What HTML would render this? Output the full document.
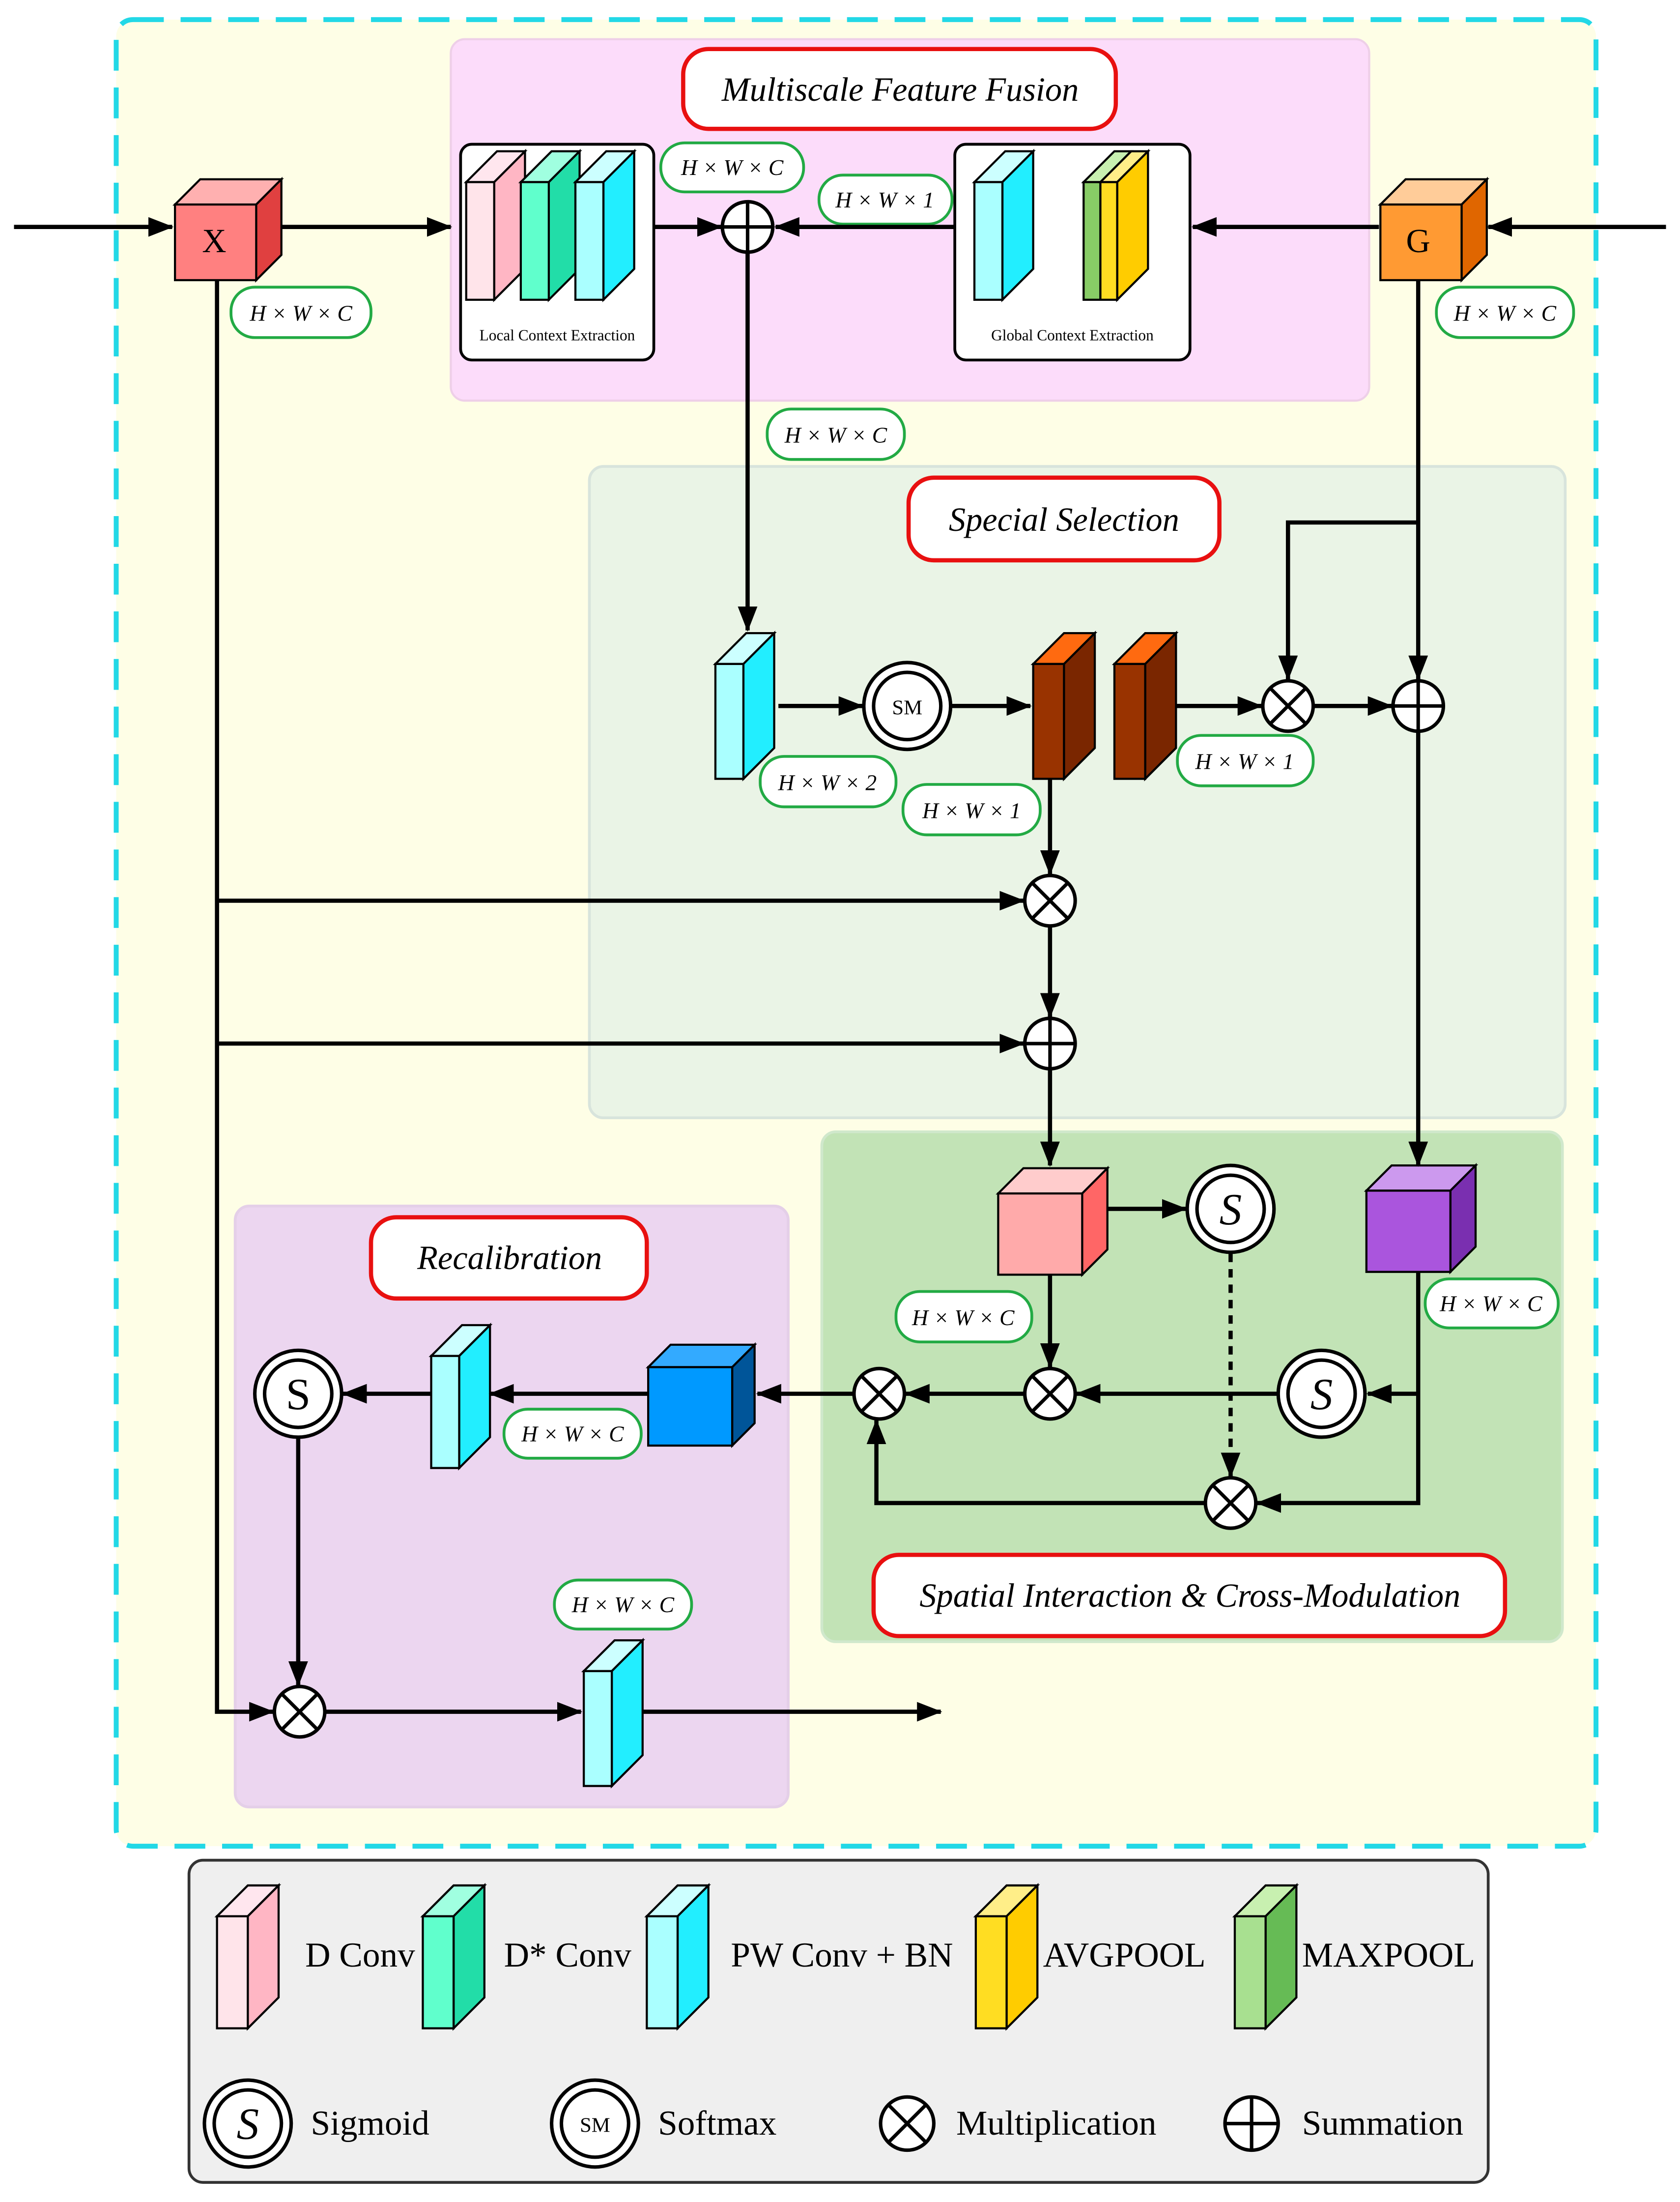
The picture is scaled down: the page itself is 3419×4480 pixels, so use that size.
<!DOCTYPE html>
<html><head><meta charset="utf-8"><style>
html,body{margin:0;padding:0;background:#fff}
svg{display:block}
text{font-family:"Liberation Serif",serif}
.lb{font-style:italic;font-size:16px}
.ttl{font-style:italic;font-size:24px}
.lg{font-size:25px}
</style></head><body>
<svg width="3419" height="4480" viewBox="0 0 1200 1572" preserveAspectRatio="none" xmlns="http://www.w3.org/2000/svg">
<defs>
<marker id="a" markerWidth="10" markerHeight="10" refX="9" refY="5" orient="auto" markerUnits="userSpaceOnUse" viewBox="0 0 10 10"><path d="M0,0 L10,5 L0,10 z" fill="#000"/></marker>
<marker id="b" markerWidth="18" markerHeight="14" refX="17" refY="7" orient="auto" markerUnits="userSpaceOnUse" viewBox="0 0 18 14"><path d="M0,0 L18,7 L0,14 z" fill="#000"/></marker>
</defs>
<rect width="1200" height="1572" fill="#fff"/>
<!-- outer -->
<rect x="83" y="14" width="1057" height="1304" rx="12" fill="#fefee6" stroke="#22d8e6" stroke-width="3.5" stroke-dasharray="22,12"/>
<rect x="322" y="28" width="656" height="258" rx="10" fill="#fcdcfa" stroke="#eecfe8" stroke-width="1.5"/>
<rect x="421" y="333" width="697" height="465" rx="10" fill="#eaf4e6" stroke="#d8e4dc" stroke-width="2"/>
<rect x="587" y="808" width="529" height="364" rx="10" fill="#c2e3b6" stroke="#d0e8cc" stroke-width="2"/>
<rect x="168" y="861" width="395" height="429" rx="10" fill="#ecd6f0" stroke="#e4cfe8" stroke-width="2"/>
<rect x="135" y="1328" width="928" height="230" rx="10" fill="#efefef" stroke="#333" stroke-width="2"/>

<!-- titles -->
<rect x="488" y="35" width="309" height="57" rx="18" fill="#fff" stroke="#e81010" stroke-width="3"/>
<text x="643" y="72" class="ttl" text-anchor="middle">Multiscale Feature Fusion</text>
<rect x="649" y="341" width="222" height="59" rx="18" fill="#fff" stroke="#e81010" stroke-width="3"/>
<text x="760" y="379" class="ttl" text-anchor="middle">Special Selection</text>
<rect x="624" y="1110" width="451" height="58" rx="18" fill="#fff" stroke="#e81010" stroke-width="3"/>
<text x="850" y="1147" class="ttl" text-anchor="middle">Spatial Interaction &amp; Cross-Modulation</text>
<rect x="265" y="869" width="197" height="58" rx="18" fill="#fff" stroke="#e81010" stroke-width="3"/>
<text x="364" y="906" class="ttl" text-anchor="middle">Recalibration</text>

<!-- MFF boxes -->
<rect x="329" y="103" width="138" height="154" rx="8" fill="#fff" stroke="#000" stroke-width="2"/>
<rect x="682" y="103" width="168" height="154" rx="8" fill="#fff" stroke="#000" stroke-width="2"/>
<g stroke="#000" stroke-width="1.5">
<!-- pink slab -->
<polygon points="333,130 355,108 375,108 353,130" fill="#ffe6ee"/><polygon points="353,130 375,108 375,192 353,214" fill="#ffb6c4"/><rect x="333" y="130" width="20" height="84" fill="#ffe4ea"/>
<polygon points="372,130 394,108 414,108 392,130" fill="#a0ffe0"/><polygon points="392,130 414,108 414,192 392,214" fill="#22dda8"/><rect x="372" y="130" width="20" height="84" fill="#60ffcc"/>
<polygon points="411,130 433,108 453,108 431,130" fill="#ccffff"/><polygon points="431,130 453,108 453,192 431,214" fill="#22eeff"/><rect x="411" y="130" width="20" height="84" fill="#aaffff"/>
<polygon points="696,130 718,108 738,108 716,130" fill="#ccffff"/><polygon points="716,130 738,108 738,192 716,214" fill="#22eeff"/><rect x="696" y="130" width="20" height="84" fill="#aaffff"/>
<polygon points="774,130 796,108 808,108 786,130" fill="#c8f0b0"/><rect x="774" y="130" width="12" height="84" fill="#88cc66"/>
<polygon points="786,130 808,108 820,108 798,130" fill="#ffee88"/><polygon points="798,130 820,108 820,192 798,214" fill="#ffcc00"/><rect x="786" y="130" width="12" height="84" fill="#ffdd22"/>
</g>
<text x="398" y="243" font-size="11" text-anchor="middle">Local Context Extraction</text>
<text x="766" y="243" font-size="11" text-anchor="middle">Global Context Extraction</text>

<!-- X and G cubes -->
<g stroke="#000" stroke-width="1.5">
<polygon points="125,146 143,128 201,128 183,146" fill="#ffb0b0"/><polygon points="183,146 201,128 201,182 183,200" fill="#e04040"/><rect x="125" y="146" width="58" height="54" fill="#ff8080"/>
<polygon points="986,146 1004,128 1062,128 1044,146" fill="#ffcc99"/><polygon points="1044,146 1062,128 1062,182 1044,200" fill="#e06600"/><rect x="986" y="146" width="58" height="54" fill="#ff9a33"/>
</g>
<text x="153" y="180" font-size="24" text-anchor="middle">X</text>
<text x="1013" y="180" font-size="24" text-anchor="middle">G</text>

<!-- dimension labels -->
<g fill="#fff" stroke="#22aa44" stroke-width="2">
<rect x="472" y="102" width="102" height="35" rx="17"/>
<rect x="585" y="125" width="95" height="35" rx="17"/>
<rect x="165" y="205" width="100" height="36" rx="17"/>
<rect x="1026" y="205" width="98" height="36" rx="17"/>
<rect x="548" y="292" width="98" height="36" rx="17"/>
<rect x="543" y="540" width="97" height="36" rx="17"/>
<rect x="645" y="560" width="98" height="36" rx="17"/>
<rect x="841" y="525" width="97" height="36" rx="17"/>
<rect x="640" y="922" width="97" height="36" rx="17"/>
<rect x="1018" y="913" width="95" height="35" rx="17"/>
<rect x="360" y="1006" width="98" height="35" rx="17"/>
<rect x="396" y="1128" width="98" height="35" rx="17"/>
</g>
<g class="lb" text-anchor="middle">
<text x="523" y="125">H × W × C</text>
<text x="632" y="148">H × W × 1</text>
<text x="215" y="229">H × W × C</text>
<text x="1075" y="229">H × W × C</text>
<text x="597" y="316">H × W × C</text>
<text x="591" y="564">H × W × 2</text>
<text x="694" y="584">H × W × 1</text>
<text x="889" y="549">H × W × 1</text>
<text x="688" y="946">H × W × C</text>
<text x="1065" y="936">H × W × C</text>
<text x="409" y="1029">H × W × C</text>
<text x="445" y="1151">H × W × C</text>
</g>

<!-- SS slabs -->
<g stroke="#000" stroke-width="1.5">
<polygon points="511,474 533,452 553,452 531,474" fill="#ccffff"/><polygon points="531,474 553,452 553,534 531,556" fill="#22eeff"/><rect x="511" y="474" width="20" height="82" fill="#aaffff"/>
<polygon points="738,474 760,452 782,452 760,474" fill="#ff6a10"/><polygon points="760,474 782,452 782,534 760,556" fill="#7a2600"/><rect x="738" y="474" width="22" height="82" fill="#993300"/>
<polygon points="796,474 818,452 840,452 818,474" fill="#ff6a10"/><polygon points="818,474 840,452 840,534 818,556" fill="#7a2600"/><rect x="796" y="474" width="22" height="82" fill="#993300"/>
<!-- pink cube -->
<polygon points="713,852 731,834 791,834 773,852" fill="#ffcccc"/><polygon points="773,852 791,834 791,892 773,910" fill="#ff6666"/><rect x="713" y="852" width="60" height="58" fill="#ffaaaa"/>
<!-- purple cube -->
<polygon points="976,850 994,832 1054,832 1036,850" fill="#cc99ee"/><polygon points="1036,850 1054,832 1054,890 1036,908" fill="#7a2fb0"/><rect x="976" y="850" width="60" height="58" fill="#aa55dd"/>
<!-- blue cube -->
<polygon points="463,976 479,960 539,960 523,976" fill="#33aaff"/><polygon points="523,976 539,960 539,1016 523,1032" fill="#005599"/><rect x="463" y="976" width="60" height="56" fill="#0099ff"/>
<!-- recal slabs -->
<polygon points="308,968 330,946 350,946 328,968" fill="#ccffff"/><polygon points="328,968 350,946 350,1026 328,1048" fill="#22eeff"/><rect x="308" y="968" width="20" height="80" fill="#aaffff"/>
<polygon points="417,1193 439,1171 459,1171 437,1193" fill="#ccffff"/><polygon points="437,1193 459,1171 459,1253 437,1275" fill="#22eeff"/><rect x="417" y="1193" width="20" height="82" fill="#aaffff"/>
</g>

<!-- connectors -->
<g stroke="#000" stroke-width="3" fill="none">
<line x1="10" y1="162" x2="123" y2="162" marker-end="url(#b)"/>
<line x1="201" y1="162" x2="322" y2="162" marker-end="url(#b)"/>
<line x1="467" y1="162" x2="515" y2="162" marker-end="url(#b)"/>
<line x1="682" y1="162" x2="554" y2="162" marker-end="url(#b)"/>
<line x1="985" y1="162" x2="852" y2="162" marker-end="url(#b)"/>
<line x1="1190" y1="162" x2="1063" y2="162" marker-end="url(#b)"/>
<line x1="534" y1="180" x2="534" y2="450" marker-end="url(#b)"/>
<polyline points="155,200 155,1222 195,1222" marker-end="url(#b)"/>
<line x1="155" y1="643" x2="731" y2="643" marker-end="url(#b)"/>
<line x1="155" y1="745" x2="731" y2="745" marker-end="url(#b)"/>
<line x1="1013" y1="200" x2="1013" y2="485" marker-end="url(#b)"/>
<polyline points="1013,373 920,373 920,485" marker-end="url(#b)"/>
<line x1="556" y1="504" x2="616" y2="504" marker-end="url(#b)"/>
<line x1="679" y1="504" x2="736" y2="504" marker-end="url(#b)"/>
<line x1="840" y1="504" x2="901" y2="504" marker-end="url(#b)"/>
<line x1="938" y1="504" x2="994" y2="504" marker-end="url(#b)"/>
<line x1="750" y1="556" x2="750" y2="624" marker-end="url(#b)"/>
<line x1="750" y1="661" x2="750" y2="726" marker-end="url(#b)"/>
<line x1="750" y1="763" x2="750" y2="832" marker-end="url(#b)"/>
<line x1="1013" y1="522" x2="1013" y2="832" marker-end="url(#b)"/>
<line x1="791" y1="863" x2="847" y2="863" marker-end="url(#b)"/>
<line x1="879" y1="895" x2="879" y2="1054" stroke-dasharray="6,5" marker-end="url(#b)"/>
<line x1="750" y1="910" x2="750" y2="976" marker-end="url(#b)"/>
<polyline points="1013,908 1013,1073 898,1073" marker-end="url(#b)"/>
<line x1="1013" y1="995" x2="977" y2="995" marker-end="url(#b)"/>
<line x1="913" y1="995" x2="769" y2="995" marker-end="url(#b)"/>
<line x1="732" y1="995" x2="647" y2="995" marker-end="url(#b)"/>
<polyline points="861,1073 626,1073 626,1014" marker-end="url(#b)"/>
<line x1="610" y1="995" x2="541" y2="995" marker-end="url(#b)"/>
<line x1="463" y1="995" x2="350" y2="995" marker-end="url(#b)"/>
<line x1="308" y1="995" x2="245" y2="995" marker-end="url(#b)"/>
<line x1="213" y1="1026" x2="213" y2="1203" marker-end="url(#b)"/>
<line x1="232" y1="1222" x2="415" y2="1222" marker-end="url(#b)"/>
<line x1="459" y1="1222" x2="672" y2="1222" marker-end="url(#b)"/>
</g>

<!-- operators -->
<g stroke="#000" stroke-width="2.5" fill="#fff">
<circle cx="534" cy="162" r="18"/><path d="M516,162H552M534,144V180" fill="none"/>
<circle cx="1013" cy="504" r="18"/><path d="M995,504H1031M1013,486V522" fill="none"/>
<circle cx="750" cy="745" r="18"/><path d="M732,745H768M750,727V763" fill="none"/>
<circle cx="894" cy="1516" r="19"/><path d="M875,1516H913M894,1497V1535" fill="none"/>
<circle cx="920" cy="504" r="18"/><path d="M907,491L933,517M933,491L907,517" fill="none"/>
<circle cx="750" cy="643" r="18"/><path d="M737,630L763,656M763,630L737,656" fill="none"/>
<circle cx="750" cy="995" r="18"/><path d="M737,982L763,1008M763,982L737,1008" fill="none"/>
<circle cx="628" cy="995" r="18"/><path d="M615,982L641,1008M641,982L615,1008" fill="none"/>
<circle cx="879" cy="1073" r="18"/><path d="M866,1060L892,1086M892,1060L866,1086" fill="none"/>
<circle cx="214" cy="1222" r="18"/><path d="M201,1209L227,1235M227,1209L201,1235" fill="none"/>
<circle cx="648" cy="1516" r="19"/><path d="M635,1503L661,1529M661,1503L635,1529" fill="none"/>
<circle cx="648" cy="504" r="31"/><circle cx="648" cy="504" r="24"/>
<circle cx="879" cy="863" r="31"/><circle cx="879" cy="863" r="24"/>
<circle cx="944" cy="995" r="31"/><circle cx="944" cy="995" r="24"/>
<circle cx="213" cy="995" r="31"/><circle cx="213" cy="995" r="24"/>
<circle cx="177" cy="1516" r="31"/><circle cx="177" cy="1516" r="24"/>
<circle cx="425" cy="1516" r="31"/><circle cx="425" cy="1516" r="24"/>
</g>
<text x="648" y="510" font-size="15" text-anchor="middle">SM</text>
<text x="425" y="1522" font-size="15" text-anchor="middle">SM</text>
<text x="879" y="874" font-size="32" font-style="italic" text-anchor="middle">S</text>
<text x="944" y="1006" font-size="32" font-style="italic" text-anchor="middle">S</text>
<text x="213" y="1006" font-size="32" text-anchor="middle">S</text>
<text x="177" y="1527" font-size="32" font-style="italic" text-anchor="middle">S</text>

<!-- legend -->
<g stroke="#000" stroke-width="1.5">
<polygon points="155,1368 177,1346 199,1346 177,1368" fill="#ffe6ee"/><polygon points="177,1368 199,1346 199,1426 177,1448" fill="#ffb6c4"/><rect x="155" y="1368" width="22" height="80" fill="#ffe4ea"/>
<polygon points="302,1368 324,1346 346,1346 324,1368" fill="#a0ffe0"/><polygon points="324,1368 346,1346 346,1426 324,1448" fill="#22dda8"/><rect x="302" y="1368" width="22" height="80" fill="#60ffcc"/>
<polygon points="462,1368 484,1346 506,1346 484,1368" fill="#ccffff"/><polygon points="484,1368 506,1346 506,1426 484,1448" fill="#22eeff"/><rect x="462" y="1368" width="22" height="80" fill="#aaffff"/>
<polygon points="697,1368 719,1346 741,1346 719,1368" fill="#ffee88"/><polygon points="719,1368 741,1346 741,1426 719,1448" fill="#ffcc00"/><rect x="697" y="1368" width="22" height="80" fill="#ffdd22"/>
<polygon points="882,1368 904,1346 926,1346 904,1368" fill="#c8f0b0"/><polygon points="904,1368 926,1346 926,1426 904,1448" fill="#66bb55"/><rect x="882" y="1368" width="22" height="80" fill="#a8e090"/>
</g>
<g class="lg">
<text x="218" y="1404">D Conv</text>
<text x="360" y="1404">D* Conv</text>
<text x="522" y="1404">PW Conv + BN</text>
<text x="745" y="1404">AVGPOOL</text>
<text x="930" y="1404">MAXPOOL</text>
<text x="222" y="1524">Sigmoid</text>
<text x="470" y="1524">Softmax</text>
<text x="683" y="1524">Multiplication</text>
<text x="930" y="1524">Summation</text>
</g>
</svg>
</body></html>
